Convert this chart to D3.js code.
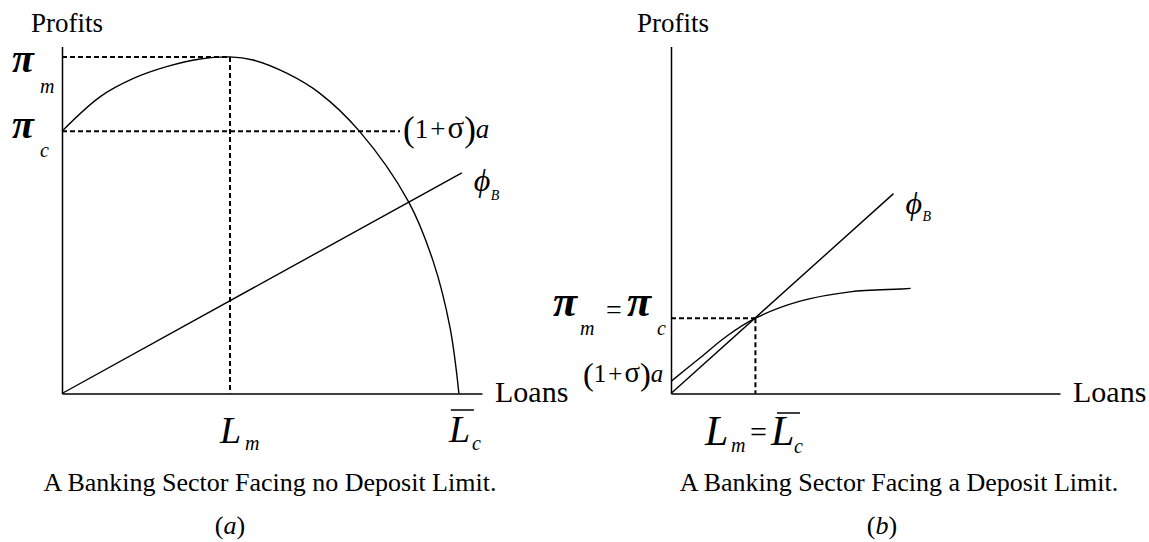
<!DOCTYPE html>
<html>
<head>
<meta charset="utf-8">
<script src="https://cdn.jsdelivr.net/npm/d3@7"></script>
<style>
  body { margin: 0; background: #fff; }
  svg text { font-family: "Liberation Serif", "Times New Roman", "DejaVu Serif", serif; fill: #000; }
</style>
</head>
<body>
<script>
// panel (a): no deposit limit
const aCurveLoans   = [0, 9.05, 17, 24.9, 32.9, 40, 45.5, 53.5, 61.4, 70.8, 82.5, 88.4, 92.4, 94.5];
const aCurveProfits = [75.6, 85.5, 90.8, 94.2, 96.4, 97, 96.1, 92.3, 86.5, 75.6, 55.3, 38, 18.9, 0];
const aPhiLoans     = [0, 95.2];
const aPhiProfits   = [0, 63.6];
const aPiM = 97, aPiC = 75.6, aLm = 40, aLc = 94.5;

// panel (b): deposit limit
const bCurveLoans   = [0, 7.5, 14.3, 21.7, 33.2, 46, 58.9, 61.6];
const bCurveProfits = [3.5, 10.3, 16.5, 21.7, 26.6, 29.3, 30.1, 30.3];
const bPhiLoans     = [0, 57.2];
const bPhiProfits   = [0, 57.6];
const bEq = 21.7;

const captions = ['A Banking Sector Facing no Deposit Limit.', 'A Banking Sector Facing a Deposit Limit.'];
const axisNames = ['Profits', 'Loans'];

const svg = d3.select('body').append('svg')
    .attr('width', 1149)
    .attr('height', 542);

const xa = d3.scaleLinear().domain([0, 100]).range([62, 482]);
const ya = d3.scaleLinear().domain([0, 100]).range([393.5, 46.5]);
const xb = d3.scaleLinear().domain([0, 100]).range([671, 1060]);
const yb = d3.scaleLinear().domain([0, 100]).range([393.5, 46.5]);

function axes(x, y) {
    const g = svg.append('g');
    g.append('g')
        .attr('transform', 'translate(0,' + y(0) + ')')
        .call(d3.axisBottom(x).ticks(0).tickSizeOuter(0));
    g.append('g')
        .attr('transform', 'translate(' + x(0) + ',0)')
        .call(d3.axisLeft(y).ticks(0).tickSizeOuter(0));
    g.selectAll('.domain').attr('stroke', '#000').attr('stroke-width', 1.5);
}

function curve(x, y, xs, ys, kind) {
    const pts = xs.map((v, i) => [v, ys[i]]);
    const line = d3.line()
        .x(d => x(d[0]))
        .y(d => y(d[1]))
        .curve(kind || d3.curveLinear);
    svg.append('path')
        .attr('d', line(pts))
        .attr('fill', 'none')
        .attr('stroke', '#000')
        .attr('stroke-width', 1.4);
}

function dashed(x1, y1, x2, y2) {
    svg.append('line')
        .attr('x1', x1).attr('y1', y1)
        .attr('x2', x2).attr('y2', y2)
        .attr('stroke', '#000')
        .attr('stroke-width', 2)
        .attr('stroke-dasharray', '5,3');
}

function label(x, y, str, size, opts) {
    opts = opts || {};
    return svg.append('text')
        .attr('x', x).attr('y', y)
        .attr('font-size', size)
        .attr('font-style', opts.italic ? 'italic' : 'normal')
        .attr('font-weight', opts.bold ? 'bold' : 'normal')
        .attr('text-anchor', opts.anchor || 'start')
        .text(str);
}

function overbar(x1, x2, y) {
    svg.append('line')
        .attr('x1', x1).attr('x2', x2)
        .attr('y1', y).attr('y2', y)
        .attr('stroke', '#000').attr('stroke-width', 1.5);
}

// (1+σ)a with tall parentheses
function onePlusSigma(x, y, size) {
    const t = svg.append('text').attr('x', x).attr('y', y).attr('font-size', size);
    t.append('tspan').attr('font-size', size * 1.3).attr('dy', 3).text('(');
    t.append('tspan').attr('dy', -3).text('1');
    t.append('tspan').attr('dx', 2).text('+');
    t.append('tspan').attr('dx', 2).attr('font-size', size * 1.15).text('σ');
    t.append('tspan').attr('font-size', size * 1.3).attr('dy', 3).text(')');
    t.append('tspan').attr('font-style', 'italic').attr('dy', -3).text('a');
}

// ---- panel (a)
dashed(xa(0), ya(aPiM), xa(aLm), ya(aPiM));
dashed(xa(0), ya(aPiC), 400, ya(aPiC));
dashed(xa(aLm), ya(aPiM), xa(aLm), ya(0));
axes(xa, ya);
curve(xa, ya, aCurveLoans, aCurveProfits, d3.curveCatmullRom.alpha(0.5));
curve(xa, ya, aPhiLoans, aPhiProfits);

label(31, 32, axisNames[0], 27);
label(xa(100) + 13, ya(0) + 8, axisNames[1], 30);
label(12, ya(aPiM) + 15, 'π', 40, {italic: true, bold: true});
label(40, ya(aPiM) + 36, 'm', 20, {italic: true});
label(12, ya(aPiC) + 7, 'π', 40, {italic: true, bold: true});
label(40, ya(aPiC) + 26, 'c', 20, {italic: true});
onePlusSigma(403, ya(aPiC) + 7, 27);
label(xa(aPhiLoans[1]) + 12, ya(aPhiProfits[1]) + 18, 'ϕ', 32, {italic: true});
label(xa(aPhiLoans[1]) + 29, ya(aPhiProfits[1]) + 27, 'B', 14, {italic: true});
label(xa(aLm) - 10, 443, 'L', 38, {italic: true});
label(xa(aLm) + 15, 450, 'm', 20, {italic: true});
label(xa(aLc) - 10, 442, 'L', 38, {italic: true});
overbar(xa(aLc) - 8, xa(aLc) + 15, 410);
label(xa(aLc) + 13, 450, 'c', 20, {italic: true});
label(270, 491, captions[0], 26, {anchor: 'middle'});
const ta = label(230, 534, '(', 26, {anchor: 'middle'});
ta.append('tspan').attr('font-style', 'italic').text('a');
ta.append('tspan').text(')');

// ---- panel (b)
dashed(xb(0), yb(bEq), xb(bEq), yb(bEq));
dashed(xb(bEq), yb(bEq), xb(bEq), yb(0));
axes(xb, yb);
curve(xb, yb, bCurveLoans, bCurveProfits, d3.curveCatmullRom.alpha(0.5));
curve(xb, yb, bPhiLoans, bPhiProfits);

label(637, 32, axisNames[0], 27);
label(xb(100) + 13, yb(0) + 8, axisNames[1], 30);
label(553, yb(bEq) - 2, 'π', 44, {italic: true, bold: true});
label(580, yb(bEq) + 17, 'm', 20, {italic: true});
label(606, yb(bEq) + 1, '=', 28);
label(627, yb(bEq) - 2, 'π', 44, {italic: true, bold: true});
label(657, yb(bEq) + 17, 'c', 20, {italic: true});
onePlusSigma(583, 382, 25);
label(xb(bPhiLoans[1]) + 12, yb(bPhiProfits[1]) + 20, 'ϕ', 32, {italic: true});
label(xb(bPhiLoans[1]) + 29, yb(bPhiProfits[1]) + 27, 'B', 14, {italic: true});
label(705, 445, 'L', 42, {italic: true});
label(731, 452, 'm', 20, {italic: true});
label(750, 442, '=', 30);
label(771, 445, 'L', 42, {italic: true});
overbar(777, 800, 413);
label(794, 453, 'c', 20, {italic: true});
label(899, 491, captions[1], 26, {anchor: 'middle'});
const tb = label(882, 534, '(', 26, {anchor: 'middle'});
tb.append('tspan').attr('font-style', 'italic').text('b');
tb.append('tspan').text(')');
</script>
</body>
</html>
